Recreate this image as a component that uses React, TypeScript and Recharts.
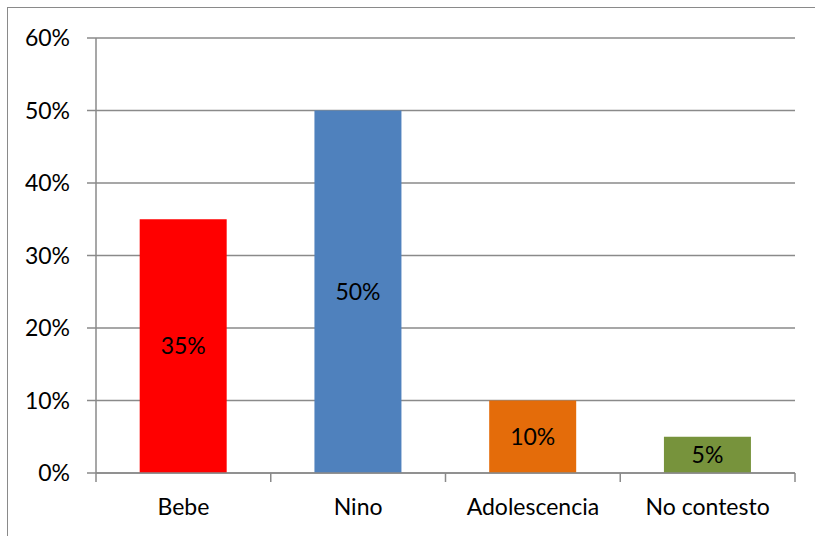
import { BarChart, Bar, XAxis, YAxis, CartesianGrid, Cell, LabelList } from 'recharts';

const categories = ['Bebe', 'Nino', 'Adolescencia', 'No contesto'];
const values = [35, 50, 10, 5];
const colors = ['#FF0000', '#4F81BD', '#E46C0A', '#77933C'];
const yTicks = [0, 10, 20, 30, 40, 50, 60];

const W = 815;
const H = 536;
const M = { top: 38, right: 20, left: 0, bottom: 0 };
const Y_W = 96;
const X_H = 63;
const GRID = '#8a8a8a';
const FONT = 'Lato, "Open Sans", sans-serif';

const data = categories.map((name, i) => ({ name, value: values[i] }));

const plotBottom = H - X_H;
const band = (W - M.right - Y_W) / categories.length;

function CatTick(props: any) {
  const { x, index, payload } = props;
  return (
    <g>
      <line x1={x - band / 2} x2={x - band / 2} y1={plotBottom} y2={plotBottom + 9} stroke={GRID} strokeWidth={1.5} />
      {index === categories.length - 1 && (
        <line x1={x + band / 2} x2={x + band / 2} y1={plotBottom} y2={plotBottom + 9} stroke={GRID} strokeWidth={1.5} />
      )}
      <text x={x} y={plotBottom + 42} textAnchor="middle" fill="#000" fontSize={23} fontFamily={FONT}>
        {payload.value}
      </text>
    </g>
  );
}

export default function App() {
  return (
    <div style={{ position: 'fixed', left: 0, top: 0, width: W, height: H, overflow: 'hidden', background: '#fff' }}>
      <div
        style={{
          position: 'absolute',
          left: 7,
          top: 7,
          width: W + 20,
          height: H + 20,
          border: '1.5px solid #8a8a8a',
        }}
      />
      <div style={{ position: 'absolute', left: 0, top: 0 }}>
        <BarChart width={W} height={H} data={data} margin={M} barCategoryGap="25%">
          <CartesianGrid vertical={false} stroke={GRID} strokeWidth={1.5} />
          <XAxis
            dataKey="name"
            height={X_H}
            axisLine={{ stroke: GRID, strokeWidth: 1.5 }}
            tickLine={false}
            tick={<CatTick />}
            interval={0}
          />
          <YAxis
            width={Y_W}
            domain={[0, 60]}
            ticks={yTicks}
            tickFormatter={(v: number) => `${v}%`}
            axisLine={{ stroke: GRID, strokeWidth: 1.5 }}
            tickLine={{ stroke: GRID, strokeWidth: 1.5 }}
            tickSize={9}
            tickMargin={17}
            tick={{ fill: '#000', fontSize: 23, fontFamily: FONT }}
          />
          <Bar dataKey="value" isAnimationActive={false}>
            {data.map((d, i) => (
              <Cell key={d.name} fill={colors[i]} />
            ))}
            <LabelList
              dataKey="value"
              position="center"
              formatter={(v: any) => `${v}%`}
              fill="#000"
              fontSize={23}
              fontFamily={FONT}
            />
          </Bar>
        </BarChart>
      </div>
    </div>
  );
}
